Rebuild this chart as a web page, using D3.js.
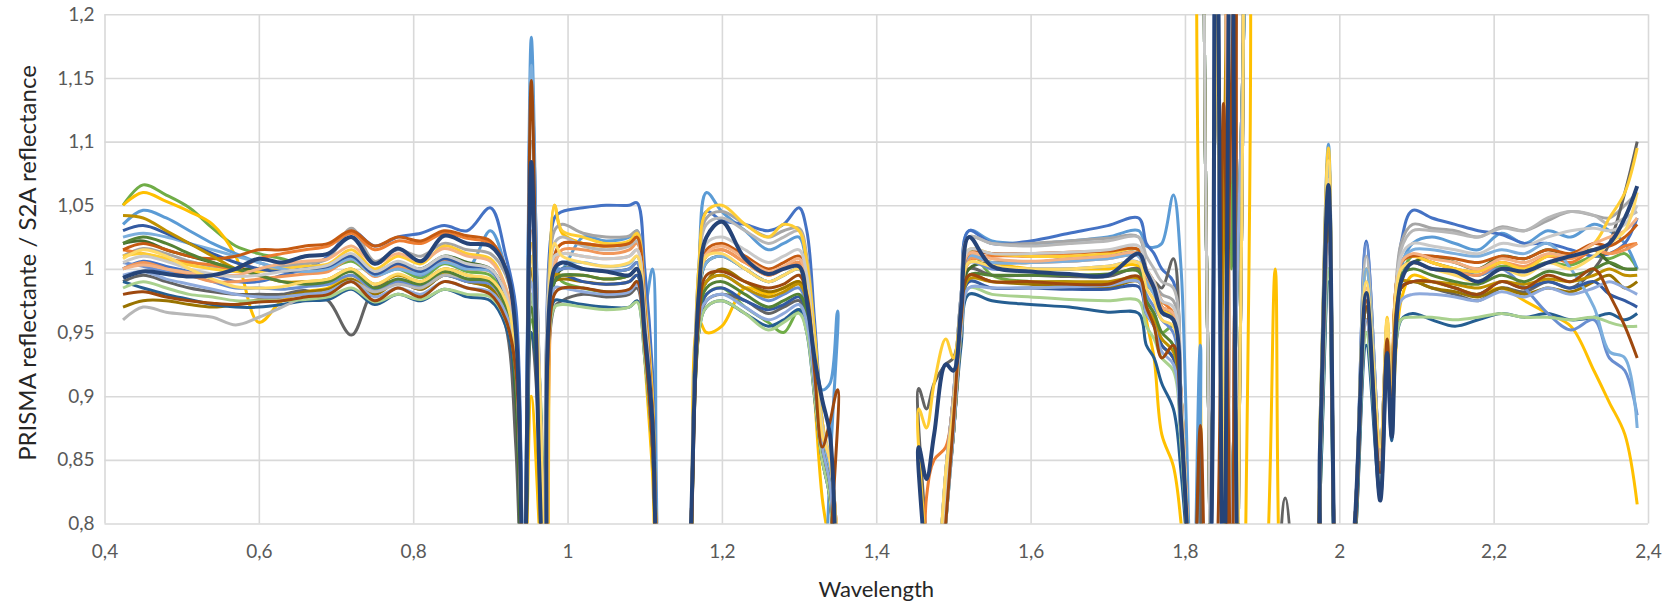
<!DOCTYPE html>
<html>
<head>
<meta charset="utf-8">
<script src="https://cdn.jsdelivr.net/npm/d3@7"></script>
<style>
body{margin:0;background:#fff;}
</style>
</head>
<body>
<script>
// wavelength grid (micrometres), shared by every series
var wavelength=[0.424,0.45,0.48,0.51,0.54,0.57,0.60,0.63,0.66,0.69,0.72,0.75,0.78,0.81,0.84,0.87,0.90,
  0.92,0.933,0.943,0.953,0.963,0.973,0.983,0.993, 1.02,1.05,1.08,1.09,1.10,1.11,1.12,
  1.15,1.16,1.17,1.18,1.20,1.23,1.26,1.28,1.30,1.31,1.32,1.33,1.34,1.35,1.36,
  1.45,1.455,1.465,1.475,1.49,1.50,1.51,1.52,1.55,1.60,1.65,1.70,1.74,1.75,1.76,1.77,1.785,1.795,1.81,1.82,1.83,
  1.84,1.85,1.86,1.87,1.88, 1.905,1.917,1.93,
  1.96,1.975,1.986,2.0,2.02,2.035,2.053,2.062,2.068,2.08,2.095,
  2.12,2.15,2.18,2.21,2.24,2.27,2.30,2.33,2.35,2.37,2.386];

var yTicks=[0.8,0.85,0.9,0.95,1,1.05,1.1,1.15,1.2];
var yTickLabels=["0,8","0,85","0,9","0,95","1","1,05","1,1","1,15","1,2"];
var xTicks=[0.4,0.6,0.8,1,1.2,1.4,1.6,1.8,2,2.2,2.4];
var xTickLabels=["0,4","0,6","0,8","1","1,2","1,4","1,6","1,8","2","2,2","2,4"];

// ratio PRISMA / S2A, one array per site
var s01=[1.05,1.066,1.058,1.048,1.032,1.018,1.012,1.008,1.002,1.0,1.006,0.995,1.0,0.993,1.004,0.998,0.995,
  0.975,0.935,0.7,0.96,0.92,0.68,1.0,0.99, 0.985,0.982,0.983,0.99,0.95,0.885,0.74,
  0.64,0.8,0.95,0.98,0.985,0.97,0.958,0.95,0.968,0.962,0.93,0.87,0.84,0.78,0.6,
  0.6,0.6,0.62,0.72,0.83,0.9,0.96,1.015,0.995,0.99,0.99,0.988,0.992,0.975,0.965,0.95,0.955,0.9,0.72,0.65,0.7,
  1.4,1.4,1.0,1.4,0.6, 0.6,0.6,0.6,
  0.62,0.82,1.0,0.66,0.78,0.95,0.84,0.95,0.88,0.99,1.01,
  1.005,1.0,0.995,1.002,1.0,1.005,1.003,1.01,1.008,1.012,1.0];
var s02=[1.05,1.06,1.053,1.045,1.035,1.01,0.958,0.975,0.982,0.985,0.995,0.982,0.99,0.985,0.996,0.99,0.988,
  0.97,0.92,0.7,0.9,0.8,0.66,1.05,1.028, 1.02,1.018,1.02,1.025,0.93,0.84,0.7,
  0.62,0.75,0.96,0.95,0.955,0.985,0.98,0.985,0.99,0.975,0.9,0.82,0.78,0.72,0.6,
  0.6,0.6,0.6,0.68,0.82,0.88,0.95,1.01,1.005,1.0,1.0,1.0,1.002,0.96,0.93,0.87,0.845,0.8,0.68,0.78,1.4,
  1.4,1.4,1.4,1.4,0.6, 0.75,1.0,0.68,
  0.6,0.85,1.09,0.66,0.8,0.96,0.84,0.96,0.885,0.975,0.995,
  0.99,0.985,0.98,0.985,0.975,0.965,0.955,0.92,0.895,0.87,0.815];
var s03=[1.035,1.046,1.04,1.03,1.02,1.012,1.005,1.0,0.998,1.0,1.008,0.996,1.002,0.995,1.006,1.0,1.03,
  1.0,0.96,0.75,1.182,0.9,0.7,1.0,1.0, 1.025,1.022,1.025,1.03,0.97,1.0,0.74,
  0.62,0.8,1.0,1.06,1.045,1.03,1.015,1.02,1.025,1.0,0.94,0.905,0.91,0.967,0.62,
  0.6,0.6,0.6,0.7,0.84,0.9,0.98,1.03,1.022,1.02,1.022,1.025,1.03,1.018,1.017,1.02,1.058,1.0,0.72,0.94,0.7,
  0.7,1.4,1.4,0.7,0.6, 0.6,0.6,0.6,
  0.6,0.88,1.098,0.66,0.8,1.0,0.86,0.95,0.89,1.0,1.02,
  1.025,1.02,1.015,1.028,1.02,1.03,1.025,1.035,1.03,1.02,1.0];
var s04=[1.0,1.006,1.002,0.998,0.995,0.99,0.99,0.995,1.0,1.01,1.03,1.018,1.025,1.028,1.034,1.03,1.048,
  1.01,0.97,0.75,1.15,0.92,0.7,1.04,1.045, 1.048,1.05,1.05,1.052,1.0,0.92,0.74,
  0.64,0.8,0.99,1.045,1.038,1.035,1.03,1.035,1.048,1.03,0.96,0.88,0.84,0.78,0.6,
  0.6,0.6,0.6,0.7,0.84,0.9,0.98,1.03,1.02,1.022,1.028,1.034,1.04,1.02,1.012,1.0,0.99,0.9,0.72,0.65,0.7,
  1.4,0.7,1.4,1.4,0.6, 0.6,0.6,0.6,
  0.6,0.87,1.09,0.66,0.8,1.022,0.86,0.955,0.89,1.02,1.046,
  1.04,1.035,1.03,1.027,1.02,1.02,1.015,1.01,1.012,1.02,1.04];
var s05=[1.01,1.016,1.012,1.006,1.002,1.0,1.0,1.002,1.004,1.008,1.032,1.006,1.015,1.01,1.02,1.015,1.012,
  0.995,0.95,0.72,1.1,0.93,0.7,1.03,1.035, 1.028,1.025,1.026,1.03,0.98,0.9,0.72,
  0.64,0.8,1.0,1.04,1.045,1.035,1.025,1.03,1.032,1.01,0.95,0.88,0.84,0.78,0.6,
  0.6,0.6,0.6,0.7,0.84,0.9,0.98,1.025,1.02,1.02,1.022,1.024,1.025,1.0,0.99,0.98,0.975,0.9,0.72,0.65,0.7,
  0.7,1.4,1.4,0.7,0.6, 0.6,0.6,0.6,
  0.6,0.86,1.08,0.66,0.8,1.0,0.86,0.95,0.89,1.02,1.035,
  1.032,1.03,1.025,1.033,1.03,1.038,1.045,1.042,1.04,1.05,1.06];
var s06=[0.993,0.998,0.996,0.994,0.995,1.0,1.008,1.005,1.01,1.012,1.025,1.004,1.016,1.006,1.026,1.02,1.018,
  1.0,0.95,0.72,1.084,0.85,0.68,1.0,1.005, 1.0,0.998,0.995,1.0,0.95,0.88,0.72,
  0.62,0.8,0.98,1.025,1.037,1.008,0.996,1.0,1.002,0.975,0.93,0.897,0.87,0.72,0.6,
  0.6,0.86,0.835,0.87,0.925,0.92,0.97,1.025,1.002,0.998,0.996,0.995,1.012,0.998,0.985,0.966,0.96,0.88,0.72,0.65,0.7,
  1.4,0.7,1.4,0.7,0.6, 0.6,0.6,0.6,
  0.6,0.86,1.066,0.66,0.8,0.981,0.818,0.934,0.868,0.99,1.005,
  1.0,0.998,0.99,1.0,0.998,1.005,1.01,1.015,1.02,1.04,1.065];
var s07=[0.98,0.982,0.978,0.975,0.973,0.972,0.974,0.975,0.978,0.98,0.99,0.975,0.985,0.978,0.99,0.985,0.98,
  0.96,0.92,0.7,1.148,0.85,0.66,0.98,0.985, 0.985,0.982,0.984,0.99,0.94,0.86,0.72,
  0.62,0.78,0.96,0.995,0.998,0.99,0.985,0.988,0.995,0.98,0.92,0.86,0.88,0.905,0.6,
  0.6,0.6,0.6,0.7,0.8,0.88,0.96,0.995,0.99,0.99,0.988,0.988,0.994,0.97,0.955,0.93,0.94,0.88,0.72,0.877,0.7,
  0.75,1.13,0.75,1.4,0.6, 0.6,0.6,0.6,
  0.6,0.85,1.04,0.66,0.79,0.97,0.84,0.945,0.88,0.985,0.99,
  0.99,0.985,0.98,0.99,0.985,0.995,0.99,1.0,0.98,0.955,0.93];
var s08=[0.99,0.995,0.99,0.985,0.982,0.98,0.98,0.98,0.983,0.975,0.948,0.985,0.99,0.984,0.995,0.99,0.985,
  0.955,0.86,0.7,0.95,0.87,0.66,0.97,0.975, 0.98,0.978,0.98,0.985,0.94,0.86,0.72,
  0.62,0.78,0.95,0.975,0.98,0.975,0.965,0.97,0.975,0.96,0.9,0.85,0.82,0.7,0.6,
  0.6,0.906,0.89,0.91,0.925,0.93,0.96,1.0,0.995,0.995,0.994,0.994,1.0,0.985,0.99,0.985,1.008,0.9,0.72,0.86,0.7,
  0.7,1.4,0.7,1.4,0.6, 0.6,0.7,0.82,
  0.6,0.84,1.02,0.66,0.79,0.96,0.83,0.945,0.875,0.985,0.99,
  0.985,0.98,0.975,0.985,0.982,0.99,0.985,1.0,1.02,1.06,1.1];
var s09=[0.97,0.975,0.975,0.972,0.97,0.972,0.976,0.978,0.982,0.984,0.992,0.98,0.99,0.984,0.995,0.99,0.985,
  0.965,0.925,0.72,1.0,0.92,0.68,0.99,0.992, 0.99,0.988,0.99,0.995,0.95,0.87,0.72,
  0.62,0.78,0.97,0.99,1.0,0.99,0.982,0.985,0.99,0.975,0.92,0.86,0.82,0.72,0.6,
  0.6,0.6,0.6,0.68,0.8,0.88,0.96,0.995,0.99,0.988,0.986,0.985,0.99,0.97,0.96,0.94,0.93,0.88,0.72,0.65,0.7,
  0.7,1.054,0.7,1.4,0.6, 0.6,0.6,0.6,
  0.6,0.85,1.03,0.66,0.79,0.97,0.85,0.95,0.88,0.985,0.99,
  0.985,0.982,0.978,0.985,0.98,0.985,0.982,0.99,0.995,0.985,0.99];
var s10=[0.99,0.985,0.98,0.976,0.972,0.97,0.97,0.972,0.975,0.976,0.984,0.972,0.98,0.975,0.984,0.978,0.975,
  0.955,0.9,0.7,0.95,0.9,0.68,0.975,0.975, 0.972,0.97,0.97,0.975,0.93,0.86,0.72,
  0.62,0.78,0.95,0.97,0.975,0.965,0.955,0.96,0.968,0.95,0.9,0.85,0.82,0.72,0.6,
  0.6,0.6,0.6,0.68,0.8,0.87,0.94,0.98,0.975,0.972,0.97,0.966,0.965,0.94,0.93,0.91,0.89,0.84,0.72,0.65,0.7,
  1.4,1.4,0.7,1.4,0.6, 0.6,0.6,0.6,
  0.6,0.82,0.99,0.66,0.78,0.94,0.82,0.93,0.865,0.96,0.965,
  0.96,0.955,0.96,0.965,0.962,0.965,0.96,0.962,0.965,0.96,0.965];
var s11=[1.02,1.022,1.015,1.01,1.005,1.0,1.0,0.998,1.0,1.002,1.01,0.998,1.005,1.0,1.01,1.005,1.0,
  0.98,0.9,0.7,0.98,0.9,0.68,0.99,1.0, 1.0,0.998,1.0,1.005,0.955,0.875,0.72,
  0.62,0.8,0.97,1.005,1.01,1.0,0.99,0.995,1.0,0.985,0.93,0.87,0.83,0.72,0.6,
  0.6,0.6,0.6,0.68,0.82,0.88,0.96,1.0,1.005,1.005,1.008,1.01,1.012,0.99,0.99,0.97,0.96,0.88,0.72,0.65,0.7,
  1.4,1.4,1.4,0.7,0.6, 0.6,0.6,0.6,
  0.6,0.85,1.04,0.66,0.79,0.97,0.85,0.95,0.88,1.0,1.005,
  1.01,1.005,1.0,1.01,1.008,1.015,1.01,1.015,1.005,1.0,1.0];
var s12=[1.015,1.012,1.008,1.005,1.003,1.0,1.008,1.012,1.015,1.018,1.028,1.015,1.022,1.02,1.028,1.024,1.02,
  1.0,0.94,0.72,1.0,0.91,0.68,1.01,1.02, 1.02,1.018,1.02,1.025,0.97,0.89,0.74,
  0.62,0.8,0.98,1.01,1.015,1.005,0.995,1.0,1.005,0.99,0.93,0.87,0.84,0.78,0.6,
  0.6,0.6,0.82,0.85,0.86,0.9,0.96,1.005,1.01,1.01,1.012,1.014,1.015,1.0,0.99,0.975,0.965,0.9,0.72,0.65,0.7,
  0.7,1.4,0.7,1.4,0.6, 0.6,0.6,0.6,
  0.6,0.86,1.06,0.66,0.8,0.975,0.84,0.95,0.88,1.005,1.01,
  1.005,1.0,0.998,1.005,1.0,1.01,1.005,1.015,1.012,1.018,1.02];
var s13=[1.005,1.002,0.998,0.995,0.99,0.985,0.985,0.984,0.986,0.988,0.995,0.984,0.99,0.986,0.995,0.99,0.988,
  0.97,0.92,0.72,0.98,0.92,0.68,0.995,1.0, 1.0,0.998,1.0,1.005,0.955,0.875,0.72,
  0.62,0.8,0.97,0.99,0.995,0.985,0.975,0.98,0.985,0.97,0.92,0.86,0.83,0.72,0.6,
  0.6,0.6,0.6,0.68,0.82,0.88,0.96,1.005,1.0,1.0,1.0,1.002,1.005,0.98,0.97,0.96,0.95,0.88,0.72,0.65,0.7,
  1.4,1.4,1.4,1.4,0.6, 0.6,0.6,0.6,
  0.6,0.87,1.08,0.66,0.8,1.02,0.86,0.955,0.885,1.0,1.005,
  1.0,0.998,0.995,1.0,0.985,0.965,0.952,0.96,0.93,0.92,0.885];
var s14=[1.0,1.005,1.0,0.995,0.99,0.99,0.992,0.994,0.996,0.998,1.008,0.994,1.002,0.996,1.006,1.0,0.998,
  0.98,0.93,0.72,1.02,0.92,0.68,1.0,1.015, 1.015,1.012,1.015,1.02,0.965,0.88,0.73,
  0.62,0.8,0.98,1.01,1.015,1.005,0.995,1.0,1.005,0.99,0.93,0.87,0.85,0.78,0.6,
  0.6,0.6,0.6,0.7,0.82,0.88,0.96,1.008,1.005,1.005,1.006,1.008,1.01,0.99,0.98,0.965,0.96,0.89,0.72,0.65,0.7,
  0.7,1.4,1.4,0.7,0.6, 0.6,0.6,0.6,
  0.6,0.86,1.06,0.66,0.8,0.98,0.85,0.95,0.885,1.0,1.005,
  1.0,0.998,0.995,1.005,1.002,1.01,1.008,1.015,1.012,1.015,1.02];
var s15=[0.96,0.97,0.966,0.964,0.962,0.956,0.962,0.97,0.978,0.982,0.99,0.982,0.988,0.985,0.995,0.992,0.99,
  0.97,0.93,0.72,1.06,0.93,0.68,1.02,1.025, 1.018,1.015,1.018,1.022,0.97,0.89,0.73,
  0.62,0.8,0.99,1.035,1.04,1.03,1.02,1.025,1.03,1.005,0.94,0.88,0.84,0.78,0.6,
  0.6,0.6,0.6,0.7,0.84,0.9,0.98,1.025,1.02,1.018,1.02,1.022,1.025,1.01,1.0,0.99,0.985,0.9,0.72,0.65,0.7,
  0.7,1.4,0.7,1.4,0.6, 0.6,0.6,0.6,
  0.6,0.87,1.09,0.66,0.8,1.01,0.86,0.955,0.885,1.015,1.03,
  1.03,1.028,1.025,1.032,1.03,1.04,1.045,1.042,1.035,1.04,1.045];
var s16=[1.01,1.012,1.008,1.003,1.0,0.998,0.998,1.0,1.002,1.004,1.015,1.0,1.01,1.004,1.018,1.012,1.008,
  0.985,0.93,0.72,1.02,0.92,0.68,1.05,1.03, 1.025,1.02,1.022,1.028,0.975,0.9,0.74,
  0.62,0.8,1.0,1.045,1.05,1.035,1.025,1.035,1.03,1.005,0.95,0.88,0.85,0.78,0.6,
  0.6,0.89,0.875,0.91,0.945,0.93,0.97,1.015,1.012,1.01,1.01,1.012,1.015,0.99,0.985,0.97,0.96,0.89,0.72,0.65,0.7,
  0.7,1.4,1.4,0.7,0.6, 0.6,0.6,0.6,
  0.6,0.88,1.095,0.66,0.8,1.0,0.86,0.962,0.89,1.005,1.01,
  1.005,1.0,0.998,1.005,1.0,1.01,1.012,1.02,1.04,1.06,1.095];
var s17=[1.025,1.028,1.025,1.02,1.015,1.01,1.005,1.0,0.998,1.0,1.008,0.995,1.0,0.996,1.005,1.0,0.998,
  0.98,0.93,0.72,1.16,0.9,0.68,1.0,1.005, 1.005,1.002,1.004,1.01,0.96,0.88,0.73,
  0.62,0.8,0.98,1.005,1.01,1.0,0.99,0.995,1.0,0.985,0.93,0.87,0.84,0.78,0.6,
  0.6,0.6,0.6,0.7,0.82,0.88,0.96,1.01,1.005,1.005,1.006,1.008,1.01,0.99,0.98,0.965,0.96,0.89,0.72,0.65,0.7,
  1.4,1.4,0.7,1.4,0.6, 0.6,0.6,0.6,
  0.6,0.87,1.08,0.66,0.8,1.0,0.86,0.955,0.885,1.005,1.015,
  1.015,1.012,1.01,1.015,1.012,1.02,1.0,0.97,0.935,0.93,0.875];
var s18=[0.985,0.99,0.985,0.98,0.978,0.975,0.975,0.975,0.976,0.978,0.985,0.974,0.98,0.976,0.984,0.98,0.978,
  0.96,0.92,0.72,0.98,0.9,0.68,0.97,0.972, 0.97,0.968,0.97,0.974,0.93,0.86,0.72,
  0.62,0.78,0.95,0.97,0.975,0.965,0.952,0.958,0.965,0.95,0.9,0.85,0.82,0.72,0.6,
  0.6,0.6,0.6,0.68,0.8,0.87,0.95,0.985,0.98,0.978,0.976,0.975,0.975,0.955,0.945,0.93,0.92,0.86,0.72,0.65,0.7,
  1.4,1.4,1.4,1.4,0.6, 0.6,0.6,0.6,
  0.6,0.84,1.0,0.66,0.79,0.95,0.83,0.94,0.87,0.96,0.962,
  0.962,0.96,0.962,0.965,0.962,0.962,0.96,0.962,0.958,0.955,0.955];
var s19=[1.03,1.034,1.028,1.02,1.012,1.005,1.0,0.998,1.0,1.002,1.01,0.996,1.004,0.998,1.008,1.002,1.0,
  0.975,0.92,0.72,1.0,0.9,0.68,0.99,0.995, 0.99,0.988,0.99,0.995,0.95,0.87,0.72,
  0.62,0.78,0.96,0.98,0.985,0.975,0.968,0.972,0.978,0.965,0.91,0.86,0.83,0.72,0.6,
  0.6,0.6,0.6,0.68,0.81,0.87,0.95,0.99,0.985,0.985,0.984,0.984,0.986,0.965,0.955,0.94,0.93,0.87,0.72,0.65,0.7,
  0.7,1.4,1.4,0.7,0.6, 0.6,0.6,0.6,
  0.6,0.85,1.05,0.66,0.79,0.97,0.84,0.945,0.875,0.985,0.99,
  0.99,0.985,0.98,0.99,0.985,0.99,0.985,0.99,0.98,0.975,0.97];
var s20=[1.015,1.02,1.015,1.01,1.008,1.01,1.015,1.015,1.018,1.02,1.03,1.018,1.025,1.022,1.03,1.026,1.022,
  1.0,0.94,0.72,1.05,0.9,0.68,1.01,1.02, 1.02,1.018,1.02,1.025,0.97,0.89,0.74,
  0.62,0.8,0.98,1.015,1.02,1.01,1.0,1.005,1.01,0.99,0.93,0.87,0.85,0.78,0.6,
  0.6,0.6,0.6,0.7,0.83,0.89,0.96,1.012,1.012,1.012,1.013,1.014,1.015,0.995,0.985,0.97,0.965,0.9,0.72,0.65,0.7,
  1.4,1.4,0.7,1.4,0.6, 0.6,0.6,0.6,
  0.6,0.86,1.06,0.66,0.8,0.975,0.84,0.95,0.88,1.005,1.01,
  1.01,1.008,1.005,1.01,1.008,1.015,1.012,1.02,1.018,1.025,1.035];
var s21=[1.042,1.04,1.03,1.02,1.01,1.0,0.995,0.99,0.99,0.992,1.0,0.988,0.995,0.99,1.0,0.995,0.99,
  0.97,0.92,0.72,1.0,0.91,0.68,0.995,0.995, 0.995,0.992,0.995,1.0,0.95,0.87,0.72,
  0.62,0.78,0.97,0.99,0.995,0.985,0.978,0.982,0.988,0.975,0.92,0.86,0.83,0.72,0.6,
  0.6,0.6,0.6,0.68,0.81,0.87,0.95,0.992,0.99,0.99,0.99,0.99,0.992,0.97,0.96,0.945,0.935,0.88,0.72,0.65,0.7,
  0.7,1.05,1.4,0.7,0.6, 0.6,0.6,0.6,
  0.6,0.85,1.04,0.66,0.79,0.97,0.85,0.95,0.88,0.99,0.99,
  0.99,0.988,0.985,0.99,0.988,0.992,0.99,0.995,1.0,0.995,0.995];
var s22=[1.02,1.025,1.02,1.012,1.005,1.0,0.995,0.99,0.988,0.99,0.998,0.985,0.992,0.988,0.998,0.992,0.99,
  0.97,0.91,0.7,0.97,0.89,0.68,0.99,0.995, 0.995,0.992,0.995,1.0,0.95,0.87,0.72,
  0.62,0.78,0.96,0.985,0.99,0.98,0.97,0.975,0.98,0.965,0.91,0.86,0.83,0.72,0.6,
  0.6,0.6,0.6,0.68,0.81,0.87,0.95,0.995,0.995,0.995,0.995,0.996,0.998,0.975,0.965,0.95,0.94,0.88,0.72,0.65,0.7,
  1.4,1.4,1.4,1.4,0.6, 0.6,0.6,0.6,
  0.6,0.85,1.05,0.66,0.79,0.97,0.84,0.95,0.88,0.995,1.0,
  0.995,0.99,0.988,0.995,0.99,0.998,0.995,1.0,1.005,1.0,1.0];
var s23=[0.995,0.998,0.992,0.988,0.984,0.98,0.978,0.978,0.98,0.982,0.99,0.978,0.985,0.98,0.99,0.985,0.982,
  0.965,0.92,0.72,0.99,0.91,0.68,0.985,0.985, 0.982,0.98,0.982,0.988,0.945,0.87,0.72,
  0.62,0.78,0.96,0.975,0.98,0.97,0.96,0.965,0.972,0.958,0.91,0.86,0.83,0.72,0.6,
  0.6,0.6,0.6,0.68,0.8,0.87,0.95,0.985,0.985,0.985,0.986,0.987,0.99,0.965,0.955,0.935,0.925,0.87,0.72,0.65,0.7,
  1.4,0.7,1.4,1.4,0.6, 0.6,0.6,0.6,
  0.6,0.84,1.02,0.66,0.79,0.96,0.84,0.94,0.875,0.975,0.98,
  0.98,0.978,0.975,0.982,0.978,0.985,0.98,0.985,0.99,0.985,0.98];
var s24=[1.0,1.003,1.0,0.997,0.995,0.995,1.0,1.004,1.006,1.008,1.018,1.004,1.012,1.006,1.016,1.01,1.006,
  0.985,0.935,0.72,1.03,0.92,0.68,1.005,1.012, 1.01,1.008,1.01,1.015,0.962,0.88,0.73,
  0.62,0.8,0.98,1.012,1.018,1.008,0.998,1.002,1.008,0.99,0.93,0.87,0.85,0.78,0.6,
  0.6,0.6,0.6,0.7,0.82,0.88,0.96,1.012,1.008,1.006,1.008,1.01,1.012,0.995,0.985,0.97,0.965,0.9,0.72,0.65,0.7,
  0.7,1.4,0.7,1.4,0.6, 0.6,0.6,0.6,
  0.6,0.86,1.07,0.66,0.8,0.985,0.85,0.95,0.885,1.005,1.012,
  1.008,1.005,1.0,1.008,1.005,1.012,1.01,1.02,1.025,1.03,1.04];
var s25=[1.005,1.01,1.006,1.0,0.996,0.994,0.995,0.998,1.0,1.003,1.012,0.998,1.006,1.0,1.01,1.004,1.0,
  0.98,0.93,0.72,1.04,0.93,0.68,1.01,1.012, 1.01,1.008,1.01,1.015,0.965,0.88,0.73,
  0.62,0.8,0.98,1.02,1.025,1.015,1.005,1.01,1.015,0.995,0.935,0.875,0.85,0.78,0.6,
  0.6,0.6,0.6,0.7,0.83,0.89,0.97,1.015,1.012,1.012,1.013,1.015,1.018,1.0,0.99,0.975,0.97,0.9,0.72,0.65,0.7,
  1.4,1.4,0.7,0.7,0.6, 0.6,0.6,0.6,
  0.6,0.86,1.07,0.66,0.8,0.99,0.85,0.95,0.885,1.01,1.02,
  1.018,1.015,1.012,1.02,1.018,1.025,1.03,1.032,1.03,1.035,1.05];
var s26=[1.008,1.015,1.01,1.0,0.992,0.986,0.985,0.986,0.99,0.992,1.0,0.988,0.996,0.99,1.0,0.995,0.992,
  0.975,0.93,0.72,1.01,0.92,0.68,1.02,1.01, 1.005,1.002,1.005,1.01,0.955,0.87,0.72,
  0.62,0.8,0.98,1.01,1.012,1.0,0.99,0.995,1.0,0.985,0.93,0.87,0.85,0.78,0.6,
  0.6,0.6,0.6,0.7,0.84,0.89,0.96,1.005,1.002,1.0,1.0,1.002,1.005,0.985,0.975,0.96,0.955,0.89,0.72,0.65,0.7,
  0.7,1.4,1.4,0.7,0.6, 0.6,0.6,0.6,
  0.6,0.87,1.085,0.66,0.8,0.99,0.86,0.96,0.89,1.0,1.005,
  1.0,0.995,0.99,1.0,0.995,1.005,1.0,1.01,1.02,1.03,1.06];

// drawing order: last one ends on top
var seriesList=[s01,s02,s03,s04,s05,s08,s09,s10,s11,s12,s13,s14,s15,s16,s17,s18,s19,s20,s21,s22,s23,s24,s25,s26,s07,s06];
var seriesColors=["#70AD47","#FFC000","#5B9BD5","#4472C4","#A5A5A5","#636363","#997300","#255E91","#43682B","#ED7D31",
  "#698ED0","#F1975A","#B7B7B7","#FFCD33","#7CAFDD","#A9D18E","#335AA1","#C55A11","#BF9000","#548235",
  "#8FAADC","#F4B183","#C9C9C9","#FFD966","#9E480E","#264478"];

var drawChart=function()
{
  var W=1667, H=602;
  var margin={top:14.3,right:19,bottom:78.5,left:104.5};
  var width=W-margin.left-margin.right;
  var height=H-margin.top-margin.bottom;

  var svg=d3.select("body").append("svg")
            .attr("width",W)
            .attr("height",H)
            .style("background-color","#ffffff");

  var g=svg.append("g")
           .attr("transform","translate("+margin.left+","+margin.top+")");

  var x=d3.scaleLinear().domain([0.4,2.4]).range([0,width]);
  var y=d3.scaleLinear().domain([0.8,1.2]).range([height,0]);

  // horizontal gridlines + y labels
  var yAxis=g.append("g")
             .call(d3.axisLeft(y).tickValues(yTicks).tickSize(-width).tickPadding(10)
                     .tickFormat(function(d,i){ return yTickLabels[i]; }))
             .attr("font-family","Lato, sans-serif")
             .attr("font-size",19);
  yAxis.select(".domain").remove();
  yAxis.selectAll("line").attr("stroke","#D9D9D9").attr("stroke-width",1.6);
  yAxis.selectAll("text").attr("fill","#595959");

  // vertical gridlines + x labels
  var xAxis=g.append("g")
             .attr("transform","translate(0,"+height+")")
             .call(d3.axisBottom(x).tickValues(xTicks).tickSize(-height).tickPadding(21)
                     .tickFormat(function(d,i){ return xTickLabels[i]; }))
             .attr("font-family","Lato, sans-serif")
             .attr("font-size",19);
  xAxis.select(".domain").remove();
  xAxis.selectAll("line").attr("stroke","#D9D9D9").attr("stroke-width",1.6);
  xAxis.selectAll("text").attr("fill","#595959");

  svg.append("defs").append("clipPath")
     .attr("id","plotclip")
     .append("rect")
     .attr("x",0).attr("y",0)
     .attr("width",width).attr("height",height);

  var line=d3.line()
             .x(function(d,i){ return x(wavelength[i]); })
             .y(function(d){ return y(d); })
             .curve(d3.curveCatmullRom.alpha(0.5));

  g.append("g")
   .attr("clip-path","url(#plotclip)")
   .selectAll("path")
   .data(seriesList)
   .enter()
   .append("path")
   .attr("d",line)
   .attr("fill","none")
   .attr("stroke",function(d,i){ return seriesColors[i]; })
   .attr("stroke-width",function(d,i){ return i==seriesList.length-1 ? 4 : 3; })
   .attr("stroke-linejoin","round");

  svg.append("text")
     .text("Wavelength")
     .attr("x",margin.left+width/2)
     .attr("y",597)
     .attr("text-anchor","middle")
     .attr("fill","#262626")
     .attr("font-size",22)
     .attr("font-family","Lato, sans-serif");

  svg.append("text")
     .text("PRISMA reflectante / S2A reflectance")
     .attr("transform","translate(28,263) rotate(-90)")
     .attr("dy","0.35em")
     .attr("text-anchor","middle")
     .attr("fill","#262626")
     .attr("font-size",24)
     .attr("font-family","Lato, sans-serif");
};

drawChart();
</script>
</body>
</html>
